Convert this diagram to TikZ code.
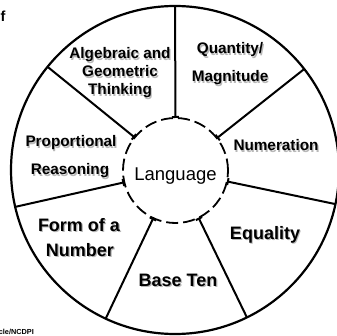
\documentclass[tikz,border=0pt]{standalone}
\usepackage{fontspec}
\setmainfont{Liberation Sans}
\usetikzlibrary{arrows.meta}
\newcommand\shlabel[5]{%
  \node[#2,ghost] (#1-sh) at (#3+1.2,#4+1.2) {#5};
  \node[#2] (#1) at (#3,#4) {#5};}
\begin{document}
\begin{tikzpicture}[x=1pt,y=-1pt,
  ring/.style={circle,draw,line width=2.2pt,minimum size=328pt,inner sep=0pt,outer sep=0pt},
  core/.style={circle,draw,line width=1.8pt,dash pattern=on 12pt off 5pt,minimum size=105pt,inner sep=0pt,outer sep=0pt},
  divider/.style={line width=2pt,{Bar[width=7pt,line width=2pt]}-},
  lab/.style={inner sep=0pt,anchor=base,font=\bfseries\fontsize{15.3}{18}\selectfont},
  biglab/.style={inner sep=0pt,anchor=base,font=\bfseries\fontsize{18}{21}\selectfont},
  ghost/.style={text=black!28},
]
\fill[white] (0,0) rectangle (336,336);
\useasboundingbox (0,0) rectangle (336,336);

\node[ring] (outer) at (175,170) {};
\node[core] (inner) at (175.5,170.5) {};
\node[inner sep=0pt,anchor=base,font=\fontsize{18.5}{21}\selectfont] (lang) at (175.5,180) {Language};

\foreach \a in {90,38.57,-12.86,-64.29,-115.71,-167.14,141.43}
  \draw[divider] (inner.\a) -- (outer.\a);

\shlabel{alg}{lab}{120}{59}{Algebraic and}
\shlabel{geo}{lab}{120}{77}{Geometric}
\shlabel{thi}{lab}{120}{95}{Thinking}
\shlabel{qua}{lab}{230}{54}{Quantity/}
\shlabel{mag}{lab}{230}{82}{Magnitude}
\shlabel{num}{lab}{276}{151}{Numeration}
\shlabel{pro}{lab}{71}{147}{Proportional}
\shlabel{rea}{lab}{70}{175}{Reasoning}
\shlabel{equ}{biglab}{265}{239}{Equality}
\shlabel{bas}{biglab}{178}{286}{Base Ten}
\shlabel{frm}{biglab}{79}{231}{Form of a}
\shlabel{nbr}{biglab}{80}{256}{Number}

\node[inner sep=0pt,anchor=base west,font=\bfseries\fontsize{14.5}{17}\selectfont] (ftxt) at (0.5,22) {f};
\node[inner sep=0pt,anchor=base east,font=\bfseries\fontsize{7.3}{9}\selectfont] (src) at (34,334.5) {cle/NCDPI};
\end{tikzpicture}
\end{document}
